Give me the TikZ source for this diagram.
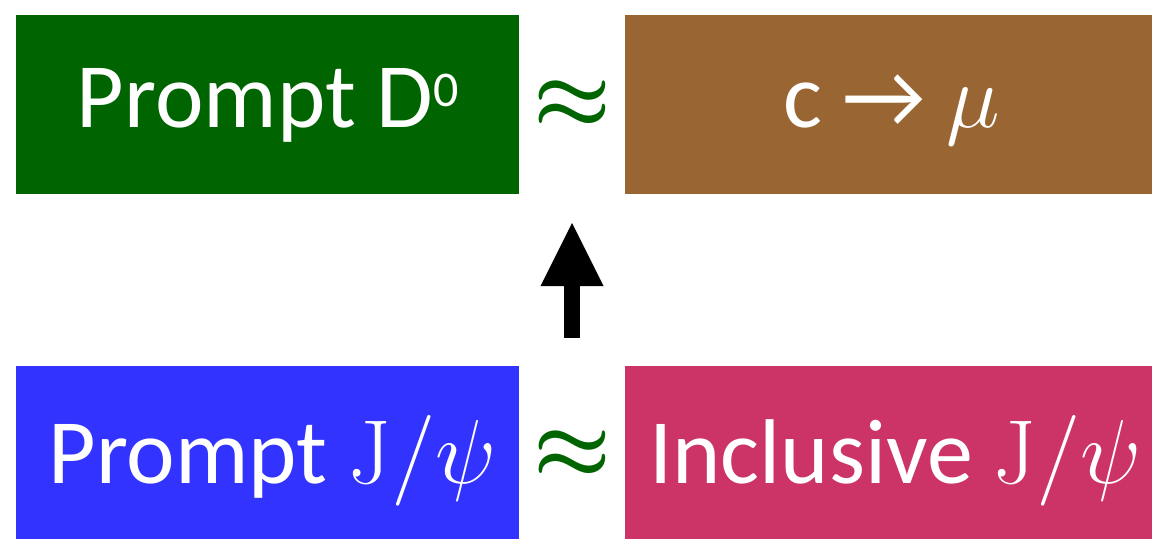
\documentclass[tikz,border=0pt]{standalone}
\usepackage[no-math]{fontspec}
\setmainfont{Carlito}
\usetikzlibrary{arrows.meta}
\definecolor{dgreen}{HTML}{006400}
\definecolor{dbrown}{HTML}{996633}
\definecolor{dblue}{HTML}{3333FF}
\definecolor{dpink}{HTML}{CC3366}
\tikzset{
  panel/.style={fill=#1, text=white, inner sep=0pt, anchor=north west,
    font=\fontsize{92}{100}\selectfont, text depth=0pt},
  approxsign/.style={text=dgreen, inner sep=0pt},
  bigarrow/.style={line width=16pt, line cap=butt,
    -{Triangle[length=63pt,width=63pt,line width=0pt]}}
}
% large math set at \Huge and scaled up
\newcommand{\mathbig}[1]{\scalebox{3.65}{\Huge$#1$}}
\newcommand{\bigapprox}{\scalebox{3.5}{\Huge\boldmath$\approx$}}
\newcommand{\supzero}{\raisebox{21pt}{\fontsize{50}{50}\selectfont 0}}
\begin{document}
\begin{tikzpicture}[x=1pt,y=-1pt]
  \useasboundingbox (0,0) rectangle (1152,539);
  % upper row
  \node[panel=dgreen, minimum width=503pt, minimum height=179pt, text height=45pt]
    (d0) at (16,15) {Prompt D\supzero};
  \node[panel=dbrown, minimum width=527pt, minimum height=179pt, text height=45pt]
    (cmu) at (625,15) {\hspace*{6pt}c → \mathbig{\mu}};
  % lower row
  \node[panel=dblue, minimum width=503pt, minimum height=173pt, text height=61pt]
    (pjpsi) at (16,366) {\hspace*{10pt}Prompt \mathbig{\mathrm{J}/\psi}};
  \node[panel=dpink, minimum width=527pt, minimum height=173pt, text height=61pt]
    (ijpsi) at (625,366) {\hspace*{14pt}Inclusive \mathbig{\mathrm{J}/\psi}};
  % approximate-equality signs between the panels
  \node[approxsign] (eqtop) at (572,105) {\bigapprox};
  \node[approxsign] (eqbot) at (572,455) {\bigapprox};
  % block arrow pointing upwards
  \coordinate (tail) at (572,338);
  \coordinate (tip) at (572,223);
  \draw[bigarrow] (tail) -- (tip);
\end{tikzpicture}
\end{document}
